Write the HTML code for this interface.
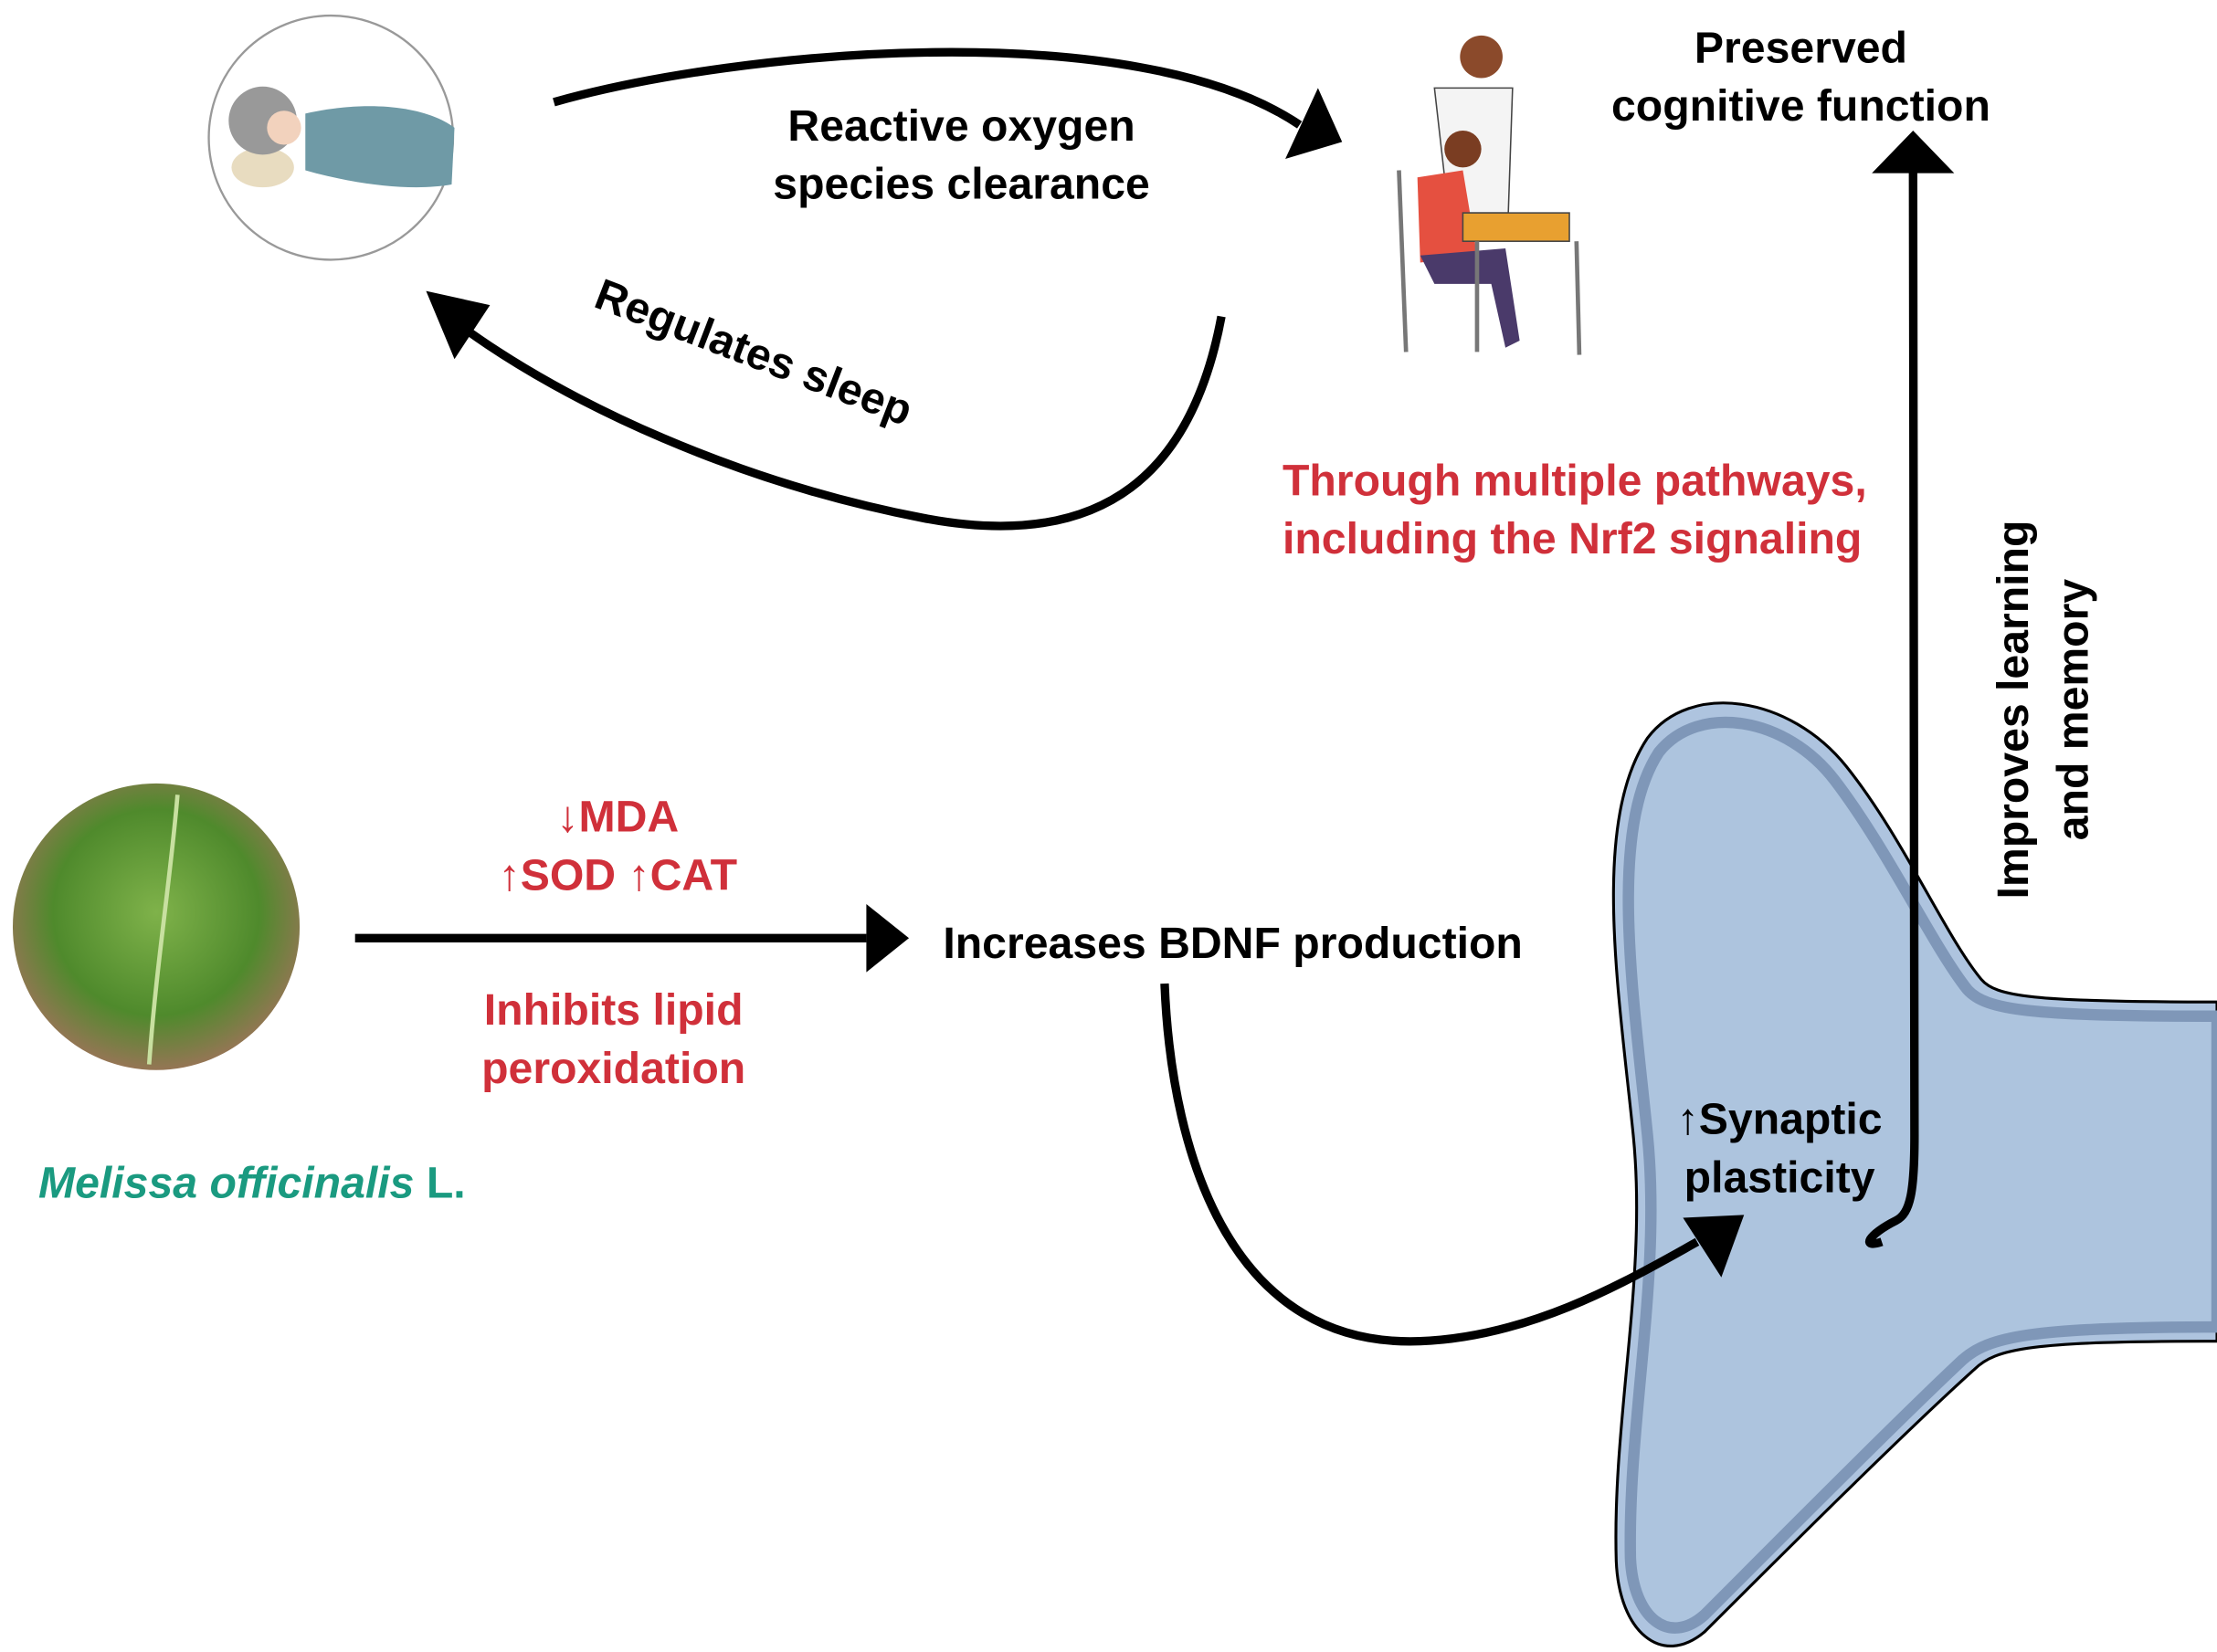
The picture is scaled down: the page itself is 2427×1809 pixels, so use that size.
<!DOCTYPE html>
<html><head><meta charset="utf-8">
<style>
html,body{margin:0;padding:0;background:#fff;}
svg{display:block;}
text{font-family:"Liberation Sans",Arial,sans-serif;font-weight:bold;}
</style></head>
<body>
<svg width="2427" height="1809" viewBox="0 0 1561 1164" preserveAspectRatio="none" xmlns="http://www.w3.org/2000/svg">
<defs>
<radialGradient id="leaf" cx="50%" cy="45%" r="60%">
<stop offset="0" stop-color="#7fb24a"/><stop offset="0.6" stop-color="#4f8a2c"/><stop offset="1" stop-color="#a87060"/>
</radialGradient>
</defs>
<path d="M1160 520 C1190 480 1260 490 1300 540 C1340 590 1370 660 1395 690 C1405 702 1430 706 1561 706 L1561 945 C1430 945 1405 950 1390 965 C1340 1010 1250 1100 1200 1150 C1170 1175 1140 1150 1138 1100 C1135 1000 1160 900 1150 800 C1140 700 1120 580 1160 520 Z" fill="#aec4df" stroke="#000" stroke-width="2"/>
<path d="M1168 530 C1196 495 1258 505 1292 550 C1330 600 1360 665 1385 697 C1398 712 1430 716 1561 716 L1561 935 C1430 935 1400 942 1382 958 C1335 1002 1248 1090 1200 1138 C1175 1160 1150 1140 1148 1098 C1146 1000 1170 900 1160 800 C1150 700 1132 585 1168 530 Z" fill="#adc4de" stroke="#7f97b8" stroke-width="8"/>
<circle cx="233" cy="97" r="86" fill="#fff" stroke="#999" stroke-width="1.5"/>
<ellipse cx="185" cy="118" rx="22" ry="14" fill="#e8dcc0"/>
<path d="M215 80 C260 70 300 75 320 90 L318 130 C290 135 250 130 215 120 Z" fill="#6f9aa6"/>
<circle cx="185" cy="85" r="24" fill="#999"/>
<circle cx="200" cy="90" r="12" fill="#f2d2bd"/>
<circle cx="1043" cy="40" r="15" fill="#8b4a2b"/>
<path d="M1010 62 L1065 62 L1062 150 L1020 150 Z" fill="#f4f4f4" stroke="#444" stroke-width="1"/>
<circle cx="1030" cy="105" r="13" fill="#7a3d22"/>
<path d="M998 125 L1030 120 L1040 180 L1000 185 Z" fill="#e55040"/>
<path d="M1000 180 L1060 175 L1070 240 L1060 245 L1050 200 L1010 200 Z" fill="#4a3a6a"/>
<rect x="1030" y="150" width="75" height="20" fill="#e8a030" stroke="#444" stroke-width="1"/>
<line x1="1040" y1="170" x2="1040" y2="248" stroke="#777" stroke-width="3"/>
<line x1="1110" y1="170" x2="1112" y2="250" stroke="#777" stroke-width="3"/>
<line x1="985" y1="120" x2="990" y2="248" stroke="#777" stroke-width="3"/>
<circle cx="110" cy="653" r="101" fill="url(#leaf)"/>
<path d="M125 560 C120 620 110 680 105 750" stroke="#c8e0a0" stroke-width="3" fill="none"/>
<g fill="none" stroke="#000" stroke-width="6">
<path d="M390 72 C520 35 800 10 915 88"/>
<path d="M860 223 C840 330 780 390 650 365 C520 340 400 285 325 230"/>
<path d="M250 661 L610 661"/>
<path d="M820 693 C825 820 870 950 1000 945 C1080 942 1150 900 1195 875"/>
<path d="M1325 875 C1310 880 1315 870 1335 860 C1345 855 1348 840 1348 800 L1347 120"/>
</g>
<g fill="#000">
<polygon points="945,100 905,112 928,62"/>
<polygon points="300,205 345,215 320,253"/>
<polygon points="640,661 610,637 610,685"/>
<polygon points="1228,856 1212,900 1185,858"/>
<polygon points="1347,92 1318,122 1376,122"/>
</g>
<g font-size="31" fill="#000" text-anchor="middle">
<text x="677" y="99">Reactive oxygen</text>
<text x="677" y="140">species clearance</text>
<text x="1268" y="44">Preserved</text>
<text x="1268" y="85">cognitive function</text>
<text transform="translate(527,258) rotate(21)">Regulates sleep</text>
<text transform="translate(1428,500) rotate(-90)">Improves learning</text>
<text transform="translate(1470,500) rotate(-90)">and memory</text>
<text x="1253" y="799">↑Synaptic</text>
<text x="1253" y="840">plasticity</text>
</g>
<text x="664" y="675" font-size="31" fill="#000">Increases BDNF production</text>
<g font-size="31" fill="#d0303a">
<text x="903" y="349">Through multiple pathways,</text>
<text x="903" y="390">including the Nrf2 signaling</text>
<g text-anchor="middle">
<text x="435" y="586">↓MDA</text>
<text x="435" y="627">↑SOD ↑CAT</text>
<text x="432" y="722">Inhibits lipid</text>
<text x="432" y="763">peroxidation</text>
</g>
</g>
<text x="27" y="844" font-size="31" fill="#1a9a80"><tspan font-style="italic">Melissa officinalis</tspan> L.</text>
</svg>
</body></html>
